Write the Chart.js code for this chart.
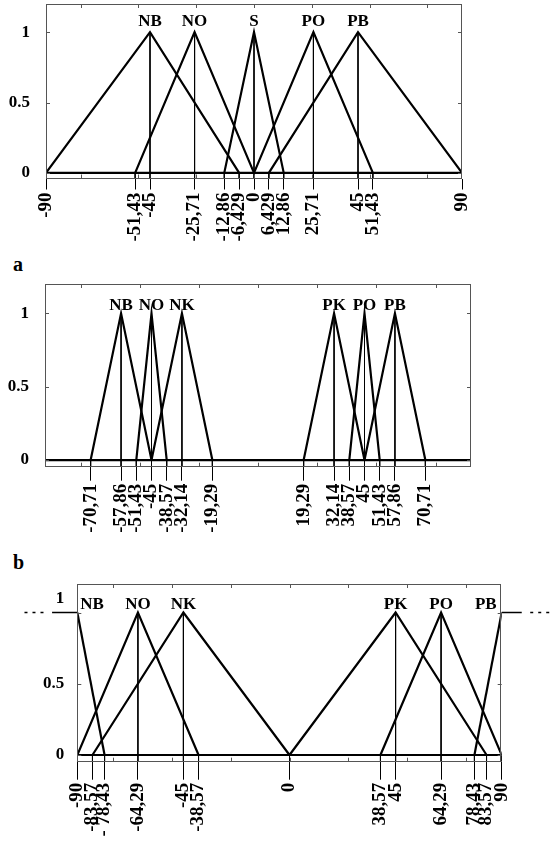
<!DOCTYPE html>
<html>
<head>
<meta charset="utf-8">
<script src="https://cdn.jsdelivr.net/npm/chart.js@4.4.1/dist/chart.umd.min.js"></script>
<style>
  body { margin: 0; background: #fff; width: 553px; height: 857px; position: relative; overflow: hidden; }
  canvas { position: absolute; left: 0; }
  .tag { position: absolute; font: bold 20px "Liberation Serif", serif; line-height: 20px; }
</style>
</head>
<body>
<canvas id="c1" width="553" height="250" style="top:0"></canvas>
<div class="tag" style="left:13px;top:254px">a</div>
<canvas id="c2" width="553" height="270" style="top:270px"></canvas>
<div class="tag" style="left:13px;top:552px">b</div>
<canvas id="c3" width="553" height="307" style="top:550px"></canvas>
<script>
// shared
const yTickVals = [0, 0.5, 1];
const yTickLabels = ['0', '0.5', '1'];
const boxTicks = [-75, -50, -25, 0, 25, 50, 75];

// panel 1
const p1Names = ['NB', 'NO', 'S', 'PO', 'PB'];
const p1Left  = [-90, -51.43, -12.86, 0, 6.429];
const p1Peak  = [-45, -25.71, 0, 25.71, 45];
const p1Right = [-6.429, 0, 12.86, 51.43, 90];
const p1Ticks = [-90, -51.43, -45, -25.71, -12.86, -6.429, 0, 6.429, 12.86, 25.71, 45, 51.43, 90];
const p1TickLabels = ['-90', '-51,43', '-45', '-25,71', '-12,86', '-6,429', '0', '6,429', '12,86', '25,71', '45', '51,43', '90'];

// panel a
const p2Names = ['NB', 'NO', 'NK', 'PK', 'PO', 'PB'];
const p2Left  = [-70.71, -51.43, -45, 19.29, 38.57, 45];
const p2Peak  = [-57.86, -45, -32.14, 32.14, 45, 57.86];
const p2Right = [-45, -38.57, -19.29, 45, 51.43, 70.71];
const p2Ticks = [-70.71, -57.86, -51.43, -45, -38.57, -32.14, -19.29, 19.29, 32.14, 38.57, 45, 51.43, 57.86, 70.71];
const p2TickLabels = ['-70,71', '-57,86', '-51,43', '-45', '-38,57', '-32,14', '-19,29', '19,29', '32,14', '38,57', '45', '51,43', '57,86', '70,71'];

// panel b
const p3Names = ['NB', 'NO', 'NK', 'PK', 'PO', 'PB'];
const p3Left  = [-90, -90, -83.57, 0, 38.57, 78.43];
const p3Peak  = [-90, -64.29, -45, 45, 64.29, 90];
const p3Right = [-78.43, -38.57, 0, 83.57, 90, 90];
const p3Ticks = [-90, -83.57, -78.43, -64.29, -45, -38.57, 0, 38.57, 45, 64.29, 78.43, 83.57, 90];
const p3TickLabels = ['-90', '-83,57', '- 78,43', '-64,29', '-45', '-38,57', '0', '38,57', '45', '64,29', '78,43', '83,57', '90'];
// shoulders continue past the box
const p3SolidL = [-100.7, -90];
const p3DotsL  = [-112.4, -103.9];
const p3SolidR = [90, 98.5];
const p3DotsR  = [102.1, 110.6];

const serif = '"Liberation Serif", "Times New Roman", serif';

const framePlugin = {
  id: 'frame',
  afterDatasetsDraw(chart, args, opts) {
    const { ctx, chartArea: a, scales: { x, y } } = chart;
    ctx.save();
    ctx.strokeStyle = '#555';
    ctx.lineWidth = 1;
    ctx.strokeRect(Math.round(a.left) + 0.5, Math.round(a.top) + 0.5, Math.round(a.right - a.left) - 1, Math.round(a.bottom - a.top) - 1);
    ctx.beginPath();
    boxTicks.forEach(v => {
      const px = Math.round(x.getPixelForValue(v)) + 0.5;
      ctx.moveTo(px, a.top); ctx.lineTo(px, a.top + 4);
      ctx.moveTo(px, a.bottom); ctx.lineTo(px, a.bottom - 4);
    });
    yTickVals.forEach(v => {
      const py = Math.round(y.getPixelForValue(v)) + 0.5;
      ctx.moveTo(a.left, py); ctx.lineTo(a.left + 4, py);
      ctx.moveTo(a.right, py); ctx.lineTo(a.right - 4, py);
    });
    ctx.stroke();

    ctx.fillStyle = '#000';
    ctx.font = 'bold 17px ' + serif;
    ctx.textBaseline = 'alphabetic';
    opts.names.forEach((n, i) => {
      const pk = opts.peaks[i];
      let px = x.getPixelForValue(pk);
      ctx.textAlign = 'center';
      if (pk <= x.min) { ctx.textAlign = 'left'; px += 3; }
      if (pk >= x.max) { ctx.textAlign = 'right'; px -= 5; }
      ctx.fillText(n, px, y.getPixelForValue(1) - opts.lift);
    });
    ctx.restore();
  }
};

function seg(points, width, extra) {
  return Object.assign({ data: points, showLine: true, borderColor: '#000', borderWidth: width, pointRadius: 0, fill: false, tension: 0 }, extra || {});
}

function drawPanel(id, o) {
  const ds = [];
  ds.push(seg([{ x: -90, y: 0 }, { x: 90, y: 0 }], 2.2));
  o.names.forEach((n, i) => {
    const pts = [];
    if (o.left[i] !== o.peak[i]) pts.push({ x: o.left[i], y: 0 });
    pts.push({ x: o.peak[i], y: 1 });
    if (o.right[i] !== o.peak[i]) pts.push({ x: o.right[i], y: 0 });
    ds.push(seg(pts, 2.2));
  });
  const drops = [];
  o.ticks.forEach(v => {
    const top = (o.peak.includes(v) && Math.abs(v) < 90) ? 1 : 0;
    drops.push({ x: v, y: top }, { x: v, y: o.yMin }, { x: v, y: null });
  });
  ds.push(seg(drops, 1));
  (o.extras || []).forEach(e => ds.push(e));

  new Chart(document.getElementById(id), {
    type: 'scatter',
    data: { datasets: ds },
    plugins: [framePlugin],
    options: {
      responsive: false,
      animation: false,
      layout: { padding: { top: o.padTop, right: o.padRight, left: 0, bottom: 0 } },
      plugins: {
        legend: { display: false },
        tooltip: { enabled: false },
        frame: { names: o.names, peaks: o.peak, lift: o.lift }
      },
      scales: {
        x: {
          type: 'linear', min: -90, max: 90,
          afterBuildTicks: s => { s.ticks = o.ticks.map(v => ({ value: v })); },
          afterFit: s => { s.height = o.xAxisH; s.paddingLeft = 0; s.paddingRight = 0; },
          ticks: {
            autoSkip: false, minRotation: 90, maxRotation: 90, padding: 3, color: '#000',
            font: { family: serif, size: 19, weight: 'bold' },
            callback: (v, i) => o.tickLabels[i]
          },
          grid: { drawOnChartArea: false, drawTicks: true, tickLength: o.tickLen, color: '#000', lineWidth: 1 },
          border: { display: false }
        },
        y: {
          min: o.yMin, max: 1.2,
          afterBuildTicks: s => { s.ticks = yTickVals.map(v => ({ value: v })); },
          afterFit: s => { s.width = o.axisW; s.paddingTop = 0; s.paddingBottom = 0; },
          ticks: {
            padding: o.yPad, color: '#000',
            font: c => ({ family: serif, size: 17, weight: 'bold', lineHeight: (o.raiseTop && c.index === 2) ? 1.65 : 1.2 }),
            callback: (v, i) => (o.raiseTop && i === 2) ? [yTickLabels[i], ''] : yTickLabels[i]
          },
          grid: { display: false },
          border: { display: false }
        }
      }
    }
  });
}

drawPanel('c1', {
  names: p1Names, left: p1Left, peak: p1Peak, right: p1Right,
  ticks: p1Ticks, tickLabels: p1TickLabels,
  yMin: -0.04, padTop: 4, padRight: 91, axisW: 46, xAxisH: 71.5, tickLen: 11, yPad: 8, lift: 6
});

drawPanel('c2', {
  names: p2Names, left: p2Left, peak: p2Peak, right: p2Right,
  ticks: p2Ticks, tickLabels: p2TickLabels,
  yMin: -0.045, padTop: 14, padRight: 82, axisW: 45, xAxisH: 73.3, tickLen: 14, yPad: 8, lift: 3
});

drawPanel('c3', {
  names: p3Names, left: p3Left, peak: p3Peak, right: p3Right,
  ticks: p3Ticks, tickLabels: p3TickLabels,
  yMin: -0.047, padTop: 34, padRight: 51.3, axisW: 77.3, xAxisH: 95.3, tickLen: 18, yPad: 5, lift: 4, raiseTop: true,
  extras: [
    seg([{ x: p3SolidL[0], y: 1 }, { x: p3SolidL[1], y: 1 }], 1.5, { clip: false }),
    seg([{ x: p3DotsL[0], y: 1 }, { x: p3DotsL[1], y: 1 }], 1.5, { clip: false, borderDash: [3, 5] }),
    seg([{ x: p3SolidR[0], y: 1 }, { x: p3SolidR[1], y: 1 }], 1.5, { clip: false }),
    seg([{ x: p3DotsR[0], y: 1 }, { x: p3DotsR[1], y: 1 }], 1.5, { clip: false, borderDash: [3, 5] })
  ]
});
</script>
</body>
</html>
